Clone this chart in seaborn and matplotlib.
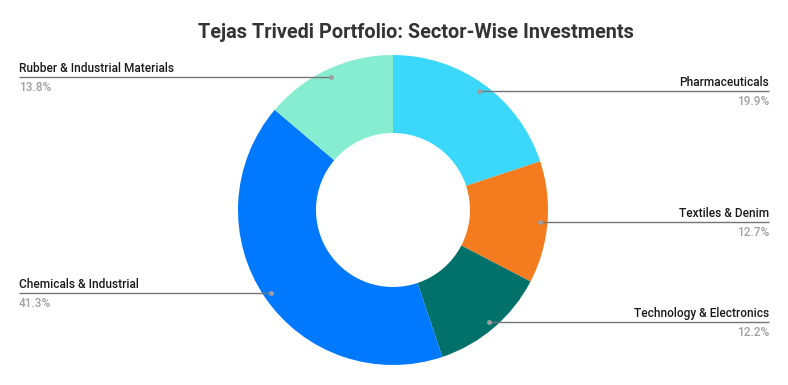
import numpy as np
import matplotlib
matplotlib.use("Agg")
import matplotlib.pyplot as plt
from matplotlib import font_manager as fm
import seaborn as sns

# Data (clockwise from 12 o'clock)
sectors = ['Pharmaceuticals', 'Textiles & Denim', 'Technology & Electronics',
           'Chemicals & Industrial', 'Rubber & Industrial Materials']
shares = [19.9, 12.7, 12.2, 41.3, 13.8]
colors = ['#3cd8fc', '#f57b1f', '#02716a', '#0079fe', '#87edd0']

sns.set_theme(style="white")
plt.rcParams['font.family'] = ['Roboto', 'DejaVu Sans']

# pick the static Roboto Medium file if present
medium = [f.fname for f in fm.fontManager.ttflist if f.fname.endswith('Roboto-Medium.ttf')]
label_font = fm.FontProperties(fname=medium[0], size=8.6) if medium else \
    fm.FontProperties(family='Roboto', weight='medium', size=8.6)

W, H = 788, 385
fig = plt.figure(figsize=(W / 100, H / 100), dpi=100)
ax = fig.add_axes([0, 0, 1, 1])

cx, cy, R = 393, H - 210, 155
ax.pie(shares, colors=colors, startangle=90, counterclock=False,
       center=(cx, cy), radius=R,
       wedgeprops=dict(width=R - 77, linewidth=0))
ax.set_xlim(0, W)
ax.set_ylim(0, H)
ax.set_aspect('equal')
ax.axis('off')

# Leader lines and labels
total = sum(shares)
cum = 0
for name, val in zip(sectors, shares):
    mid = (cum + val / 2) / total
    cum += val
    ang = 2 * np.pi * mid
    px = cx + 147 * np.sin(ang)
    py = cy + 147 * np.cos(ang)
    right = px > cx
    x_end = 769 if right else 19
    ax.plot([px, x_end], [py, py], color='#757575', lw=1, solid_capstyle='butt')
    ax.plot(px, py, 'o', color='#9e9e9e', ms=3.5, mec='none')
    ha = 'right' if right else 'left'
    ax.text(x_end, py + 2, name, ha=ha, va='bottom', fontproperties=label_font,
            color='#1a1a1a')
    ax.text(x_end, py - 4, f"{val}%", ha=ha, va='top', fontproperties=label_font,
            color='#a0a0a0')

fig.text(416 / W, 1 - 32 / H, 'Tejas Trivedi Portfolio: Sector-Wise Investments',
         ha='center', va='center', fontsize=14.3, fontweight='bold', color='#333333')

fig.savefig('out.png', dpi=100, facecolor='white')
